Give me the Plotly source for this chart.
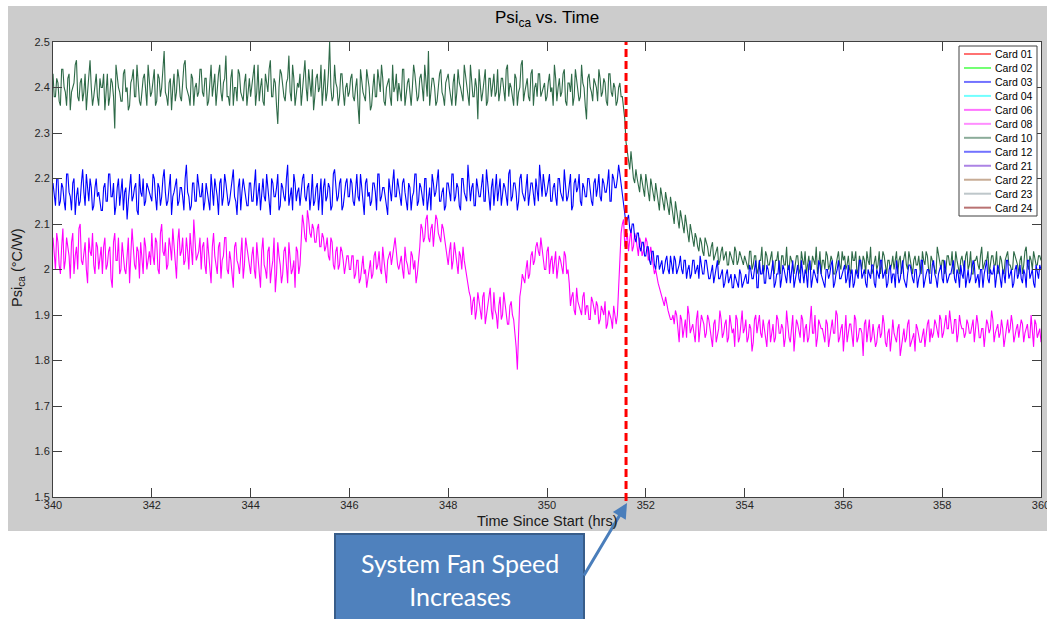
import numpy as np
import plotly.graph_objects as go

# ---------------- data (values in hundredths of °C/W) ----------------
# Two interleaved sample sets: on the 0.05 h grid (A) and half-way between (B)
time_a = np.round(np.linspace(340, 360, 401), 3)
time_b = np.round(np.linspace(340.025, 359.975, 400), 3)

card10_green_a = [
    243,238,241,236,244,239,242,235,240,245,238,241,237,243,239,246,236,241,238,242,
    240,235,243,238,241,231,242,239,237,244,240,236,242,238,245,237,240,243,236,241,
    239,244,237,242,240,248,238,241,235,243,239,242,237,245,240,238,243,236,241,239,
    244,238,242,237,245,240,236,243,239,241,247,238,242,236,240,244,239,237,243,240,
    238,242,236,245,240,237,243,239,246,238,241,232,244,240,237,242,239,245,236,241,
    243,239,246,237,241,244,238,243,240,236,244,239,250,237,245,240,238,243,236,241,
    239,243,237,242,232,241,238,244,240,236,243,238,241,245,237,240,242,236,239,243,
    241,237,244,239,242,236,245,240,238,243,237,241,248,239,242,236,240,244,238,241,
    243,238,241,236,244,240,237,243,239,245,238,242,233,241,239,244,237,242,240,238,
    244,239,242,237,245,241,238,243,236,240,246,239,242,237,244,240,238,243,239,241,
    238,243,240,245,237,242,239,244,236,241,243,238,242,237,245,240,233,243,239,242,
    240,244,238,242,237,243,239,241,236,240,238,
    236,
    228,224,226,220,222,218,221,217,221,216,220,217,219,214,218,215,217,213,216,212,
    215,211,213,210,212,208,210,206,208,205,207,204,207,205,203,206,203,205,202,205,
    203,201,204,202,205,201,204,202,203,
    201,204,200,203,199,202,205,200,203,201,204,199,202,200,203,201,205,200,202,199,
    203,200,204,201,199,203,200,202,205,201,199,202,204,200,203,199,201,204,200,202,
    200,203,199,202,204,200,201,203,199,202,205,200,203,201,199,204,201,202,200,203,
    202,199,203,201,204,200,202,199,203,201,200,204,201,203,199,202,200,205,201,202,
    199,203,201,204,200,202,199,203,200,204,201,199,202,203,200,205,201,202,199,203,
    201,204,200,202,199,203,201,200,204,202,199,203,201,205,200,202,204,201,203,202,
]
card10_green_b = [
    238,242,237,244,240,236,243,239,241,246,237,242,239,235,244,240,238,243,236,240,
    243,239,236,242,238,245,240,237,243,239,235,241,244,238,240,236,242,239,245,238,
    241,236,243,238,244,239,236,242,240,237,244,238,241,246,239,236,242,240,238,244,
    239,242,236,241,238,243,240,245,237,242,238,236,244,240,237,243,238,241,236,242,
    240,245,239,237,242,236,241,244,238,242,236,240,243,238,241,247,237,242,239,240,
    236,242,240,244,238,235,242,239,245,241,237,243,240,238,241,236,243,239,240,238,
    242,238,240,236,244,239,237,242,235,240,238,244,239,242,236,241,238,245,240,237,
    239,244,236,241,238,240,243,237,242,239,245,238,236,242,240,237,243,239,236,242,
    240,236,243,239,241,238,245,240,236,242,238,240,244,237,241,236,242,238,243,239,
    237,242,239,244,238,240,236,242,239,245,237,241,238,243,236,241,243,238,240,237,
    241,239,236,242,240,238,243,237,241,239,236,244,240,238,241,236,242,240,237,241,
    237,242,239,241,236,243,238,240,237,241,
    238,233,
    226,222,223,219,220,217,219,216,219,215,218,215,217,213,216,213,215,212,214,210,
    213,209,211,208,210,206,208,205,207,204,206,203,206,203,205,202,204,201,204,202,
    204,201,203,201,204,202,203,201,
    202,200,204,201,203,200,202,199,204,201,203,200,202,204,199,203,201,200,203,201,
    201,203,199,202,204,201,200,203,201,199,204,202,200,203,201,202,199,203,201,204,
    203,201,200,204,202,199,203,200,202,204,201,199,202,200,204,201,203,199,202,201,
    200,204,202,199,203,201,204,200,202,201,203,199,202,204,200,203,201,199,203,200,
    202,200,203,201,199,204,200,202,201,203,200,204,199,202,201,203,200,202,204,201,
    203,201,199,203,200,202,204,201,200,203,201,202,199,204,201,203,200,202,201,203,
]

card03_blue_a = [
    219,214,220,215,218,213,221,216,219,212,218,215,222,214,217,220,213,218,216,215,
    213,219,215,221,216,212,218,214,220,217,211,219,215,218,213,221,216,214,219,217,
    215,220,213,218,216,222,214,219,212,217,220,215,218,213,223,216,214,219,215,218,
    216,213,219,215,221,214,218,212,220,216,219,214,217,222,215,218,213,220,216,214,
    219,215,222,216,213,220,215,218,212,219,216,221,214,218,215,223,216,213,219,217,
    214,220,216,218,213,221,215,219,217,212,220,216,218,214,222,215,219,213,217,220,
    216,219,214,221,215,218,212,220,217,215,219,213,221,216,218,214,220,215,222,216,
    218,214,220,215,219,213,217,221,215,218,214,220,216,213,219,217,222,215,218,214,
    219,215,221,216,218,213,220,216,223,215,219,214,218,216,221,215,219,213,220,217,
    215,220,216,218,214,222,216,219,213,220,217,215,221,216,219,214,218,223,216,219,
    217,221,215,219,214,220,216,222,215,218,213,219,217,221,214,218,216,220,215,219,
    216,221,215,219,217,222,215,220,218,223,
    219,214,210,212,208,210,206,208,204,206,
    203,205,201,204,200,203,201,199,202,200,
    203,199,202,200,203,199,202,200,198,202,
    199,201,203,199,202,200,198,201,199,202,
    198,200,197,200,198,196,199,197,200,196,
    198,
    197,201,198,200,196,202,199,197,201,198,200,196,199,202,198,200,197,201,199,196,
    200,198,202,197,199,201,196,200,198,202,199,197,200,198,201,196,199,202,198,200,
    197,201,199,196,200,198,202,199,197,200,198,201,196,199,202,198,200,197,201,199,
    196,200,198,202,197,199,201,198,200,196,199,202,198,200,197,201,199,196,200,198,
    202,197,199,201,198,200,196,199,202,198,197,200,201,198,196,200,199,202,197,199,
    201,198,200,196,199,202,198,200,197,201,199,198,200,196,202,199,197,201,198,200,
]
card03_blue_b = [
    216,220,214,219,215,221,217,213,220,216,214,219,217,221,215,218,214,220,217,213,
    218,215,221,216,219,214,220,217,213,218,215,221,216,219,212,217,220,215,218,216,
    221,216,219,214,220,217,215,221,216,219,214,218,216,220,217,213,219,215,221,216,
    219,215,217,213,218,220,216,219,214,221,217,215,219,216,212,220,217,218,214,219,
    215,218,214,219,217,216,221,214,220,216,218,213,219,216,220,214,218,221,215,218,
    217,221,215,219,216,214,218,213,220,218,215,219,213,221,217,216,220,214,219,216,
    220,215,218,216,221,215,219,216,214,219,217,221,215,218,216,212,218,219,216,220,
    215,219,217,213,218,216,221,214,219,216,220,213,218,221,216,219,215,217,213,219,
    217,221,215,219,214,220,217,215,219,218,214,220,216,219,215,222,216,218,214,221,
    218,214,219,216,221,215,219,217,215,221,216,218,214,219,216,220,215,218,221,216,
    219,215,218,216,220,217,215,219,216,221,214,220,218,215,219,216,220,217,214,220,
    218,216,220,217,219,215,221,218,220,
    221,217,
    212,211,209,210,207,208,205,206,203,
    205,202,204,201,203,200,202,200,203,199,
    201,203,199,201,200,202,198,201,199,202,
    200,198,201,199,202,198,200,197,200,198,
    199,196,199,197,199,196,198,196,199,197,
    199,197,200,198,202,196,199,201,197,200,198,202,197,199,196,201,198,200,197,202,
    198,201,197,199,200,196,202,198,199,197,201,198,196,200,199,202,197,200,198,199,
    201,198,196,200,197,199,202,198,200,196,199,201,197,200,198,202,199,196,200,197,
    199,202,197,200,198,196,201,199,197,200,198,202,196,199,200,197,202,198,199,201,
    197,200,198,199,202,197,199,201,198,196,200,198,202,197,199,200,196,201,198,200,
    199,196,201,198,200,197,202,199,196,200,198,201,197,199,202,198,200,196,199,201,
]

card06_magenta_a = [
    207,200,206,199,209,202,205,198,208,203,200,210,201,206,197,204,208,199,205,202,
    199,207,201,205,196,208,202,199,206,200,204,197,209,201,205,198,203,207,200,204,
    208,201,206,199,210,203,200,207,202,205,198,209,204,201,207,200,205,211,202,204,
    200,206,199,204,197,208,201,205,198,203,207,199,202,196,206,201,204,198,207,202,
    199,205,198,203,196,207,200,204,197,202,195,206,201,199,205,197,203,200,196,204,201,
    212,207,213,208,210,206,209,205,208,204,
    207,202,206,200,205,201,204,199,203,200,
    203,198,202,197,201,199,196,201,
    198,203,200,204,199,202,197,203,201,206,204,200,203,198,202,199,204,200,197,202,
    210,206,211,207,209,205,212,208,206,209,
    205,201,206,202,204,199,203,205,200,197,194,
    193,189,195,190,194,188,192,196,189,191,187,194,190,193,188,192,190,186,
    178,
    194,199,197,202,199,204,202,206,203,205,
    200,204,199,203,201,198,203,200,204,199,197,
    194,191,196,192,190,195,192,189,194,191,193,188,192,190,187,191,189,192,188,
    196,208,211,
    207,204,209,205,207,203,206,204,207,202,205,
    202,200,
    197,195,193,194,191,189,190,
    191,186,190,185,189,192,186,188,184,191,187,189,185,190,187,183,189,186,191,185,
    188,184,190,186,183,189,185,191,187,184,188,182,189,186,190,185,187,183,189,186,
    184,190,186,188,183,191,185,187,182,189,186,190,184,188,185,192,186,183,189,187,
    185,189,183,188,186,191,184,187,182,190,186,188,183,189,185,187,181,189,186,184,
    188,183,187,185,190,184,186,182,189,185,187,181,186,184,188,183,185,182,187,184,
    186,183,188,184,185,189,186,190,185,188,187,191,186,189,184,190,187,185,189,186,
    188,184,190,185,187,183,189,186,191,184,187,185,189,183,188,186,190,184,187,185,
    189,184,187,185,190,183,188,186,184,
]
card06_magenta_b = [
    203,208,201,205,200,207,203,206,199,205,209,202,204,200,207,203,201,206,200,205,
    205,200,204,198,206,202,207,200,203,199,207,202,205,200,204,206,199,205,202,201,
    203,207,200,208,204,206,201,205,209,200,206,203,207,202,204,208,201,206,203,207,
    205,201,207,200,205,203,199,206,202,207,200,204,198,205,202,199,207,201,205,200,
    203,200,206,199,204,201,198,205,200,207,199,203,197,204,201,206,199,202,205,199,
    206,
    210,206,211,207,209,206,210,205,207,
    205,203,207,201,204,200,205,202,201,203,
    200,203,199,202,198,203,200,198,
    202,199,204,201,200,205,199,202,204,203,207,201,202,200,205,201,199,203,202,199,
    205,
    209,207,212,206,210,208,211,207,210,
    207,202,204,200,206,201,204,200,202,198,195,
    190,194,191,193,189,195,190,193,191,195,190,192,189,195,191,188,193,189,
    183,186,
    196,198,200,198,203,201,205,204,207,
    203,200,205,202,199,204,201,202,199,203,200,
    192,195,190,193,191,194,190,192,189,193,190,192,189,191,193,188,190,187,190,
    190,201,210,
    205,208,206,204,208,205,207,203,205,206,203,
    203,199,
    198,196,194,192,192,190,189,
    188,190,184,189,187,185,190,187,186,189,184,190,188,186,189,185,188,184,187,189,
    186,189,185,188,187,190,184,188,186,189,185,187,184,190,188,186,189,185,188,184,
    188,185,189,186,187,185,188,184,190,186,188,185,189,187,184,188,186,190,185,188,
    187,184,188,185,189,186,190,185,188,186,184,188,186,190,184,187,186,188,184,189,
    185,186,184,188,186,188,183,187,185,186,184,188,183,187,185,189,184,186,188,185,
    184,187,186,189,187,186,188,185,189,186,190,187,188,186,189,186,188,187,186,188,
    186,189,187,188,185,187,186,188,187,189,186,188,186,187,185,189,187,188,186,188,
    187,188,186,188,185,187,189,185,187,
]

cards = ["Card 01", "Card 02", "Card 03", "Card 04", "Card 06", "Card 08",
         "Card 10", "Card 12", "Card 21", "Card 22", "Card 23", "Card 24"]
card_colors = ["#ff0000", "#00ff00", "#0000ff", "#00ffff", "#ff00ff", "#ff33ff",
               "#2e6a48", "#0000ff", "#6a1fd0", "#9a6a40", "#8a9aa0", "#800000"]
card_values = {
    "Card 06": (card06_magenta_a, card06_magenta_b),
    "Card 10": (card10_green_a, card10_green_b),
    "Card 03": (card03_blue_a, card03_blue_b),
}
draw_order = ["Card 06", "Card 10", "Card 03"]

fan_change_hr = 351.6
x_ticks = list(range(340, 361, 2))
y_ticks = [1.5, 1.6, 1.7, 1.8, 1.9, 2.0, 2.1, 2.2, 2.3, 2.4, 2.5]
y_tick_labels = ["1.5", "1.6", "1.7", "1.8", "1.9", "2", "2.1", "2.2", "2.3", "2.4", "2.5"]

for name, (va, vb) in card_values.items():
    assert len(va) == len(time_a), (name, "a", len(va))
    assert len(vb) == len(time_b), (name, "b", len(vb))

# ---------------- layout geometry (pixels) ----------------
W, H = 1047, 619
L, R, T, B = 53, 1041, 42, 497
PW, PH = R - L, B - T
FONT = "Liberation Sans, Arial, Helvetica, sans-serif"


def px_x(px):
    return (px - L) / PW


def px_y(py):
    return (B - py) / PH


fig = go.Figure()
color_of = dict(zip(cards, card_colors))
for name in draw_order:
    va, vb = card_values[name]
    t = np.concatenate([time_a, time_b])
    v = np.concatenate([np.array(va), np.array(vb)]) / 100.0
    order = np.argsort(t, kind="stable")
    fig.add_trace(go.Scatter(
        x=t[order], y=v[order], mode="lines", name=name,
        line=dict(color=color_of[name], width=1.1),
        showlegend=False, hoverinfo="skip",
    ))

shapes = []
# white surround outside the grey figure area
for (a, b, c, d) in [(-10, 8, -10, 640), (-10, 1060, -10, 6), (-10, 1060, 531, 640)]:
    shapes.append(dict(type="rect", xref="paper", yref="paper",
                       x0=px_x(a), x1=px_x(b), y0=px_y(d), y1=px_y(c),
                       fillcolor="white", line=dict(width=0), layer="below"))
# fan speed change marker
shapes.append(dict(type="line", xref="x", yref="paper", x0=fan_change_hr, x1=fan_change_hr,
                   y0=px_y(501), y1=1, line=dict(color="#ff0000", width=3, dash="8px,4px"),
                   layer="above"))
# legend box
shapes.append(dict(type="rect", xref="paper", yref="paper",
                   x0=px_x(959), x1=px_x(1037), y0=px_y(216), y1=px_y(46),
                   fillcolor="white", line=dict(color="#404040", width=1), layer="above"))
annotations = []
for k, name in enumerate(cards):
    yc = 54 + 13.97 * k
    shapes.append(dict(type="line", xref="paper", yref="paper",
                       x0=px_x(964), x1=px_x(991), y0=px_y(yc), y1=px_y(yc),
                       line=dict(color=color_of[name], width=2), opacity=0.55, layer="above"))
    annotations.append(dict(text=name, xref="paper", yref="paper", x=px_x(993), y=px_y(yc),
                            xanchor="left", yanchor="middle", showarrow=False,
                            font=dict(family=FONT, size=10.5, color="black")))
# callout box
shapes.append(dict(type="rect", xref="paper", yref="paper",
                   x0=px_x(335), x1=px_x(584), y0=px_y(640), y1=px_y(534),
                   fillcolor="#4f81bd", line=dict(color="#385d8a", width=2), layer="above"))

annotations += [
    dict(text="System Fan Speed<br>Increases", xref="paper", yref="paper",
         x=px_x(459.5), y=px_y(579), xanchor="center", yanchor="middle", showarrow=False,
         font=dict(family="Lato, Carlito, sans-serif", size=25, color="white")),
    dict(text="", xref="paper", yref="paper", x=px_x(627), y=px_y(503),
         ax=-44, ay=74, showarrow=True, arrowhead=2, arrowsize=1, arrowwidth=3,
         arrowcolor="#4a7ebb", standoff=0),
    dict(text="Time Since Start (hrs)", xref="paper", yref="paper",
         x=0.5, y=px_y(521), xanchor="center", yanchor="middle", showarrow=False,
         font=dict(family=FONT, size=14.5, color="#1a1a1a")),
    dict(text="Psi<sub>ca</sub> (°C/W)", xref="paper", yref="paper", textangle=-90,
         x=px_x(18), y=px_y(268), xanchor="center", yanchor="middle", showarrow=False,
         font=dict(family=FONT, size=14.5, color="#1a1a1a")),
]

fig.update_layout(
    width=W, height=H, autosize=False,
    margin=dict(l=L, r=W - R, t=T, b=H - B, pad=0, autoexpand=False),
    paper_bgcolor="#cccccc", plot_bgcolor="white",
    showlegend=False,
    font=dict(family=FONT, size=11, color="#262626"),
    title=dict(text="Psi<sub>ca</sub> vs. Time", x=0.5, xref="paper", xanchor="center",
               y=1 - 17 / H, yref="container", yanchor="middle",
               font=dict(family=FONT, size=17, color="black")),
    shapes=shapes, annotations=annotations,
)
axis_common = dict(ticks="inside", ticklen=9, tickwidth=1, tickcolor="#404040",
                   showline=True, linecolor="#404040", linewidth=1, mirror="ticks",
                   showgrid=False, zeroline=False, automargin=False,
                   tickfont=dict(family=FONT, size=11, color="#262626"))
fig.update_xaxes(range=[340, 360], tickmode="array", tickvals=x_ticks,
                 ticktext=[str(v) for v in x_ticks], ticklabeloverflow="allow",
                 ticklabelstandoff=-2, **axis_common)
fig.update_yaxes(range=[1.5, 2.5], tickmode="array", tickvals=y_ticks,
                 ticktext=y_tick_labels, **axis_common)

fig.write_html("out.html", config={"displayModeBar": False})
